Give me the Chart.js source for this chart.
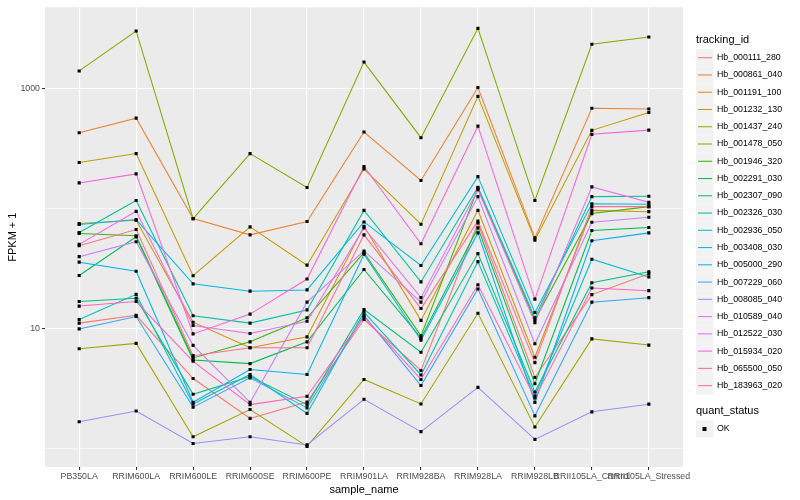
<!DOCTYPE html>
<html>
<head>
<meta charset="utf-8">
<script src="https://cdn.jsdelivr.net/npm/chart.js@4/dist/chart.umd.min.js"></script>
<style>
  html, body { margin: 0; padding: 0; background: #fff; }
  #wrap { width: 800px; height: 500px; }
</style>
</head>
<body>
<div id="wrap"><canvas id="chart" width="800" height="500"></canvas></div>
<script>
// sample names on the x axis
var sampleNames = ['PB350LA', 'RRIM600LA', 'RRIM600LE', 'RRIM600SE', 'RRIM600PE', 'RRIM901LA',
  'RRIM928BA', 'RRIM928LA', 'RRIM928LB', 'RRII105LA_Control', 'RRII105LA_Stressed'];

var trackingIds = ['Hb_000111_280', 'Hb_000861_040', 'Hb_001191_100', 'Hb_001232_130', 'Hb_001437_240',
  'Hb_001478_050', 'Hb_001946_320', 'Hb_002291_030', 'Hb_002307_090', 'Hb_002326_030',
  'Hb_002936_050', 'Hb_003408_030', 'Hb_005000_290', 'Hb_007229_060', 'Hb_008085_040',
  'Hb_010589_040', 'Hb_012522_030', 'Hb_015934_020', 'Hb_065500_050', 'Hb_183963_020'];

// FPKM + 1, one array per gene, in sample order
var hb000111 = [11.1, 12.9, 3.83, 1.78, 2.44, 11.9, 4.47, 76, 3.91, 19.2, 28.6];
var hb000861 = [430, 569, 82.6, 60.5, 78.1, 436, 172, 1025, 57.1, 688, 678];
var hb001191 = [75.2, 80, 11.3, 6.92, 8.53, 71.4, 11.7, 96.8, 5.76, 96.8, 94.4];
var hb001232 = [243, 288, 27.6, 70.5, 33.8, 214, 74.2, 864, 54.7, 450, 634];
var hb001437 = [6.78, 7.52, 1.25, 2.11, 1.04, 3.76, 2.35, 13.4, 1.51, 8.2, 7.28];
var hb001478 = [1409, 3034, 82.6, 288, 150, 1671, 391, 3192, 117, 2355, 2705];
var hb001946 = [62.1, 59.4, 5.69, 7.75, 12.3, 43, 8.69, 148, 11.8, 91, 104];
var hb002291 = [27.7, 58.2, 5.47, 5.1, 7.75, 31.1, 8.36, 69.1, 3.46, 65.8, 69.6];
var hb002307 = [16.8, 17.9, 2.83, 3.98, 2.32, 14.4, 6.34, 42.2, 2.96, 24.1, 29.8];
var hb002326 = [63.3, 117, 12.8, 11.1, 14.3, 96.8, 24.5, 151, 12.3, 126, 127];
var hb002936 = [11.9, 19.3, 2.35, 4.14, 1.96, 13.7, 4.1, 36.2, 2.74, 37.9, 26.9];
var hb003408 = [73.8, 81.1, 23.6, 20.5, 21, 77.5, 33.6, 185, 13.6, 110, 109];
var hb005000 = [35.8, 30.1, 2.43, 4.55, 4.14, 41.7, 8.0, 62.8, 2.42, 54, 62.8];
var hb007229 = [9.93, 12.6, 2.21, 3.88, 2.18, 12.9, 3.35, 21.4, 1.87, 16.6, 18.1];
var hb008085 = [1.67, 2.05, 1.1, 1.25, 1.07, 2.57, 1.38, 3.23, 1.19, 2.02, 2.34];
var hb010589 = [39.8, 53, 7.24, 2.42, 16.6, 44.4, 16.6, 126, 7.46, 77.1, 84.7];
var hb012522 = [50.4, 95, 10.6, 9.09, 11.5, 69.1, 18.1, 144, 11.2, 152, 113];
var hb015934 = [164, 195, 9.02, 13.2, 25.9, 225, 51, 488, 17.6, 417, 452];
var hb065500 = [15.4, 16.8, 5.33, 2.32, 2.72, 12.5, 3.76, 23.2, 2.64, 21.8, 20.7];
var hb183963 = [49.1, 67, 5.94, 6.92, 6.92, 60.5, 14.7, 79, 5.2, 104, 104];

var seriesValues = [hb000111, hb000861, hb001191, hb001232, hb001437, hb001478, hb001946,
  hb002291, hb002307, hb002326, hb002936, hb003408, hb005000, hb007229, hb008085,
  hb010589, hb012522, hb015934, hb065500, hb183963];

// y axis breaks (labelled ones) and minor breaks
var yBreaks = [10, 1000];
var yMinorBreaks = [1, 100];

var hueColors = ['#F8766D', '#EA8331', '#D89000', '#C09B00', '#A3A500', '#7CAE00', '#39B600',
  '#00BB4E', '#00BF7D', '#00C1A3', '#00BFC4', '#00BAE0', '#00B0F6', '#35A2FF', '#9590FF',
  '#C77CFF', '#E76BF3', '#FA62DB', '#FF62BC', '#FF6C91'];

var FONT = '"Liberation Sans", Arial, Helvetica, sans-serif';

var datasets = [];
seriesValues.forEach(function (vals, i) {
  datasets.push({
    label: trackingIds[i],
    data: vals.map(function (v, j) { return { x: j, y: v }; }),
    borderColor: hueColors[i],
    borderWidth: 1.05,
    pointRadius: 0,
    fill: false,
    tension: 0,
    order: 20 - i
  });
});

// the quant_status points, all "OK"
var okPoints = [];
seriesValues.forEach(function (vals) {
  vals.forEach(function (v, j) { okPoints.push({ x: j, y: v }); });
});
datasets.push({
  label: 'OK',
  type: 'scatter',
  data: okPoints,
  showLine: false,
  pointStyle: 'rect',
  pointRadius: 2.2,
  pointBorderWidth: 0,
  pointBackgroundColor: '#000',
  pointBorderColor: '#000',
  order: -1
});

var panelBg = {
  id: 'panelBg',
  beforeDraw: function (chart) {
    var a = chart.chartArea, c = chart.ctx;
    c.save();
    c.fillStyle = '#EBEBEB';
    c.fillRect(a.left, a.top, a.right - a.left, a.bottom - a.top);
    c.restore();
  }
};

var ggLegend = {
  id: 'ggLegend',
  afterDraw: function (chart) {
    var c = chart.ctx;
    c.save();
    c.textBaseline = 'middle';
    c.fillStyle = '#000';
    c.font = '11px ' + FONT;
    c.fillText('tracking_id', 696, 40);
    c.font = '8.8px ' + FONT;
    for (var i = 0; i < trackingIds.length; i++) {
      var cy = 57.7 + i * 17.26;
      c.fillStyle = '#F2F2F2';
      c.fillRect(696, cy - 8.6, 17.3, 17.3);
      c.strokeStyle = hueColors[i];
      c.lineWidth = 1.05;
      c.beginPath();
      c.moveTo(698, cy);
      c.lineTo(712, cy);
      c.stroke();
      c.fillStyle = '#000';
      c.fillText(trackingIds[i], 717, cy);
    }
    c.font = '11px ' + FONT;
    c.fillText('quant_status', 696, 411);
    c.fillStyle = '#F2F2F2';
    c.fillRect(696, 429 - 8.6, 17.3, 17.3);
    c.fillStyle = '#000';
    c.fillRect(702.5, 427, 4, 4);
    c.font = '8.8px ' + FONT;
    c.fillText('OK', 717, 429);
    c.restore();
  }
};

window.addEventListener('load', function () {
  new Chart(document.getElementById('chart'), {
    type: 'line',
    data: { datasets: datasets },
    plugins: [panelBg, ggLegend],
    options: {
      responsive: false,
      animation: false,
      layout: { padding: { left: 0, right: 117, top: 5, bottom: 0 } },
      plugins: {
        legend: { display: false },
        tooltip: { enabled: false }
      },
      scales: {
        x: {
          type: 'linear',
          min: -0.6,
          max: 10.6,
          afterBuildTicks: function (scale) {
            scale.ticks = sampleNames.map(function (n, i) { return { value: i }; });
          },
          afterFit: function (scale) { scale.height = 33; },
          ticks: {
            autoSkip: false,
            maxRotation: 0,
            padding: 1,
            color: '#4D4D4D',
            font: { family: FONT, size: 8.8 },
            callback: function (v) { return sampleNames[v]; }
          },
          grid: { color: '#FFFFFF', lineWidth: 1.1, tickLength: 3, tickColor: '#333333', tickWidth: 1.1 },
          border: { display: false },
          title: {
            display: true,
            text: 'sample_name',
            color: '#000',
            font: { family: FONT, size: 11 },
            padding: { top: 0, bottom: 3 }
          }
        },
        y: {
          type: 'logarithmic',
          min: 0.728,
          max: 4786,
          afterBuildTicks: function (scale) {
            scale.ticks = yMinorBreaks.concat(yBreaks).sort(function (a, b) { return a - b; })
              .map(function (v) { return { value: v }; });
          },
          afterFit: function (scale) { scale.width = 45; },
          ticks: {
            padding: 2,
            color: '#4D4D4D',
            font: { family: FONT, size: 8.8 },
            callback: function (v) { return yBreaks.indexOf(v) >= 0 ? String(v) : ''; }
          },
          grid: {
            color: '#FFFFFF',
            lineWidth: function (ctx) { return ctx.tick && yBreaks.indexOf(ctx.tick.value) >= 0 ? 1.1 : 0.55; },
            tickLength: 3,
            tickWidth: 1.1,
            tickColor: function (ctx) { return ctx.tick && yBreaks.indexOf(ctx.tick.value) >= 0 ? '#333333' : 'rgba(0,0,0,0)'; }
          },
          border: { display: false },
          title: {
            display: true,
            text: 'FPKM + 1',
            color: '#000',
            font: { family: FONT, size: 11 },
            padding: { top: 6, bottom: 0 }
          }
        }
      }
    }
  });
});
</script>
</body>
</html>
